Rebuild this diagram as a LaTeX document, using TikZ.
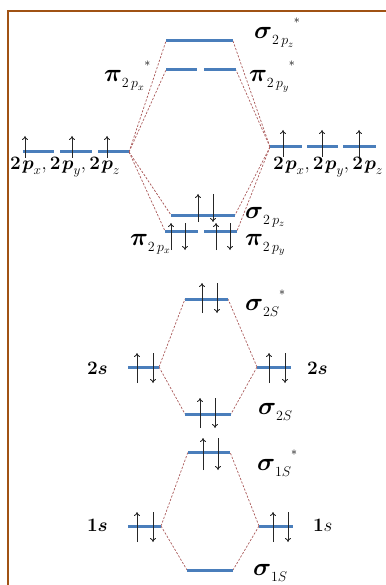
\RequirePackage{fix-cm}
\documentclass[tikz,border=0pt]{standalone}
\usepackage{amsmath}
\usetikzlibrary{arrows.meta}
\definecolor{barblue}{RGB}{74,126,187}
\definecolor{framebrown}{RGB}{160,82,20}
\definecolor{linkred}{RGB}{170,90,90}
\newcommand{\orb}[3]{\fontsize{25}{25}\selectfont$\boldsymbol{#1}$\raisebox{-6pt}{\fontsize{14}{14}\selectfont$#2$}\raisebox{15pt}{\fontsize{12}{12}\selectfont$#3$}}
\newcommand{\lvlfont}{\fontsize{19}{19}\selectfont}
\newcommand{\ptwo}[1]{\mathbf{2}\mkern1.5mu\boldsymbol{p}_{#1}}
\newcommand{\updown}[4]{\draw[elec] (#1,#4) -- (#1,#3); \draw[elec] (#2,#3) -- (#2,#4);}
\newcommand{\uponly}[3]{\draw[elec] (#1,#3) -- (#1,#2);}
\begin{document}
\begin{tikzpicture}[x=1pt,y=-1pt,
  level/.style={draw=barblue,line width=3pt},
  molink/.style={draw=linkred,dash pattern=on 2.2pt off 1.6pt,line width=0.7pt},
  elec/.style={-{To[length=4pt,width=6pt]},line width=0.85pt,black!85},
  lbl/.style={anchor=base west,inner sep=0pt,outer sep=0pt}]
\useasboundingbox (0,0) rectangle (385,585);
\draw[framebrown,line width=2pt] (8,586) -- (8,11) -- (386,11);

% ---- level end points ----
\coordinate (Sps1) at (166,41);  \coordinate (Sps2) at (233,41);
\coordinate (Pxs1) at (166,70);  \coordinate (Pxs2) at (197,70);
\coordinate (Pys1) at (204,70);  \coordinate (Pys2) at (236,70);
\coordinate (La1) at (23,152);   \coordinate (La2) at (54,152);
\coordinate (Lb1) at (60,152);   \coordinate (Lb2) at (92,152);
\coordinate (Lc1) at (98,152);   \coordinate (Lc2) at (129,152);
\coordinate (Ra1) at (270,147);  \coordinate (Ra2) at (302,147);
\coordinate (Rb1) at (307,147);  \coordinate (Rb2) at (338,147);
\coordinate (Rc1) at (343,147);  \coordinate (Rc2) at (376,147);
\coordinate (Sp1) at (171,215);  \coordinate (Sp2) at (235,215);
\coordinate (Px1) at (165,231);  \coordinate (Px2) at (198,231);
\coordinate (Py1) at (204,231);  \coordinate (Py2) at (237,231);
\coordinate (Sss1) at (185,299); \coordinate (Sss2) at (228,299);
\coordinate (Ls1) at (128,367);  \coordinate (Ls2) at (159,367);
\coordinate (Rs1) at (257,367);  \coordinate (Rs2) at (291,367);
\coordinate (Ss1) at (185,414);  \coordinate (Ss2) at (231,414);
\coordinate (Sos1) at (188,452); \coordinate (Sos2) at (230,452);
\coordinate (Lo1) at (128,526);  \coordinate (Lo2) at (161,526);
\coordinate (Ro1) at (259,526);  \coordinate (Ro2) at (293,526);
\coordinate (So1) at (187,570);  \coordinate (So2) at (233,570);

% ---- dashed correlation lines ----
\draw[molink] (Lc2) -- (Sps1);
\draw[molink] (Lc2) -- (Pxs1);
\draw[molink] (Lc2) -- (Sp1);
\draw[molink] (Lc2) -- (Px1);
\draw[molink] (Ra1) -- (Sps2);
\draw[molink] (Ra1) -- (Pys2);
\draw[molink] (Ra1) -- (Sp2);
\draw[molink] (Ra1) -- (Py2);
\draw[molink] (Ls2) -- (Sss1);
\draw[molink] (Ls2) -- (Ss1);
\draw[molink] (Rs1) -- (Sss2);
\draw[molink] (Rs1) -- (Ss2);
\draw[molink] (Lo2) -- (Sos1);
\draw[molink] (Lo2) -- (So1);
\draw[molink] (Ro1) -- (Sos2);
\draw[molink] (Ro1) -- (So2);

% ---- levels ----
\foreach \a/\b in {Sps1/Sps2,Pxs1/Pxs2,Pys1/Pys2,La1/La2,Lb1/Lb2,Lc1/Lc2,
  Ra1/Ra2,Rb1/Rb2,Rc1/Rc2,Sp1/Sp2,Px1/Px2,Py1/Py2,Sss1/Sss2,Ls1/Ls2,Rs1/Rs2,
  Ss1/Ss2,Sos1/Sos2,Lo1/Lo2,Ro1/Ro2,So1/So2}
  \draw[level] (\a) -- (\b);

% ---- electrons ----
\uponly{25}{136}{158}
\uponly{72}{136}{158}
\uponly{107}{136}{158}
\uponly{283}{130}{157}
\uponly{322}{130}{157}
\uponly{359}{130}{157}
\updown{198}{213}{194}{222}
\updown{171}{185}{223}{250}
\updown{216}{230}{223}{250}
\updown{202}{217}{283}{313}
\updown{137}{153}{353}{383}
\updown{269}{285}{353}{383}
\updown{200}{215}{398}{428}
\updown{203}{218}{438}{470}
\updown{137}{153}{512}{542}
\updown{273}{288}{512}{542}

% ---- labels ----
\node[lbl] (tSps) at (254,39) {\orb{\sigma}{2\,p_z}{*}};
\node[lbl] (tPxs) at (104,82) {\orb{\pi}{2\,p_x}{*}};
\node[lbl] (tPys) at (249,82) {\orb{\pi}{2\,p_y}{*}};
\node[lbl] (tL2p) at (10,170) {\lvlfont$\ptwo{x}\mathbf{,}\,\ptwo{y}\mathbf{,}\,\ptwo{z}$};
\node[lbl] (tR2p) at (273,170) {\lvlfont$\ptwo{x}\mathbf{,}\,\ptwo{y}\mathbf{,}\,\ptwo{z}$};
\node[lbl] (tSp) at (245,218) {\orb{\sigma}{2\,p_z}{}};
\node[lbl] (tPx) at (130,245) {\orb{\pi}{2\,p_x}{}};
\node[lbl] (tPy) at (245,245) {\orb{\pi}{2\,p_y}{}};
\node[lbl] (tSss) at (245,310) {\orb{\sigma}{2S}{*}};
\node[lbl] (tL2s) at (87,374) {\lvlfont$\mathbf{2}\boldsymbol{s}$};
\node[lbl] (tR2s) at (307,374) {\lvlfont$\mathbf{2}\boldsymbol{s}$};
\node[lbl] (tSs) at (258,414) {\orb{\sigma}{2S}{}};
\node[lbl] (tSos) at (257,470) {\orb{\sigma}{1S}{*}};
\node[lbl] (tL1s) at (87,531) {\lvlfont$\mathbf{1}\boldsymbol{s}$};
\node[lbl] (tR1s) at (313,531) {\lvlfont$\mathbf{1}s$};
\node[lbl] (tSo) at (253,575) {\orb{\sigma}{1S}{}};
\end{tikzpicture}
\end{document}
